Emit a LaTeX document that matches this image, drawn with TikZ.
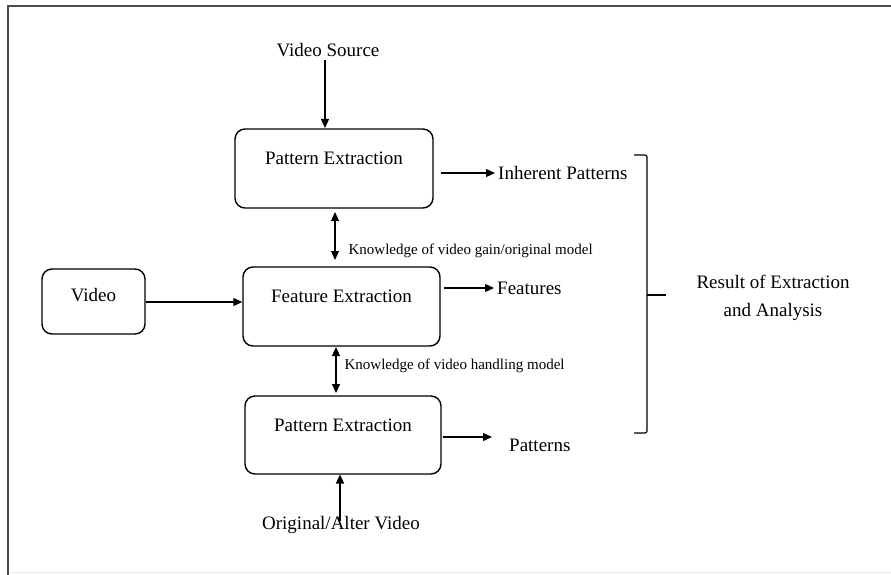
\documentclass[tikz,border=0pt]{standalone}
\usepackage{fontspec}
\setmainfont{Liberation Serif}
\usetikzlibrary{arrows.meta}
\tikzset{
  blk/.style={draw, line width=1.4pt, rounded corners=10pt, align=center,
    text height=14pt, text depth=22pt, font=\fontsize{19}{23}\selectfont},
  txt/.style={font=\fontsize{19}{23}\selectfont, inner sep=3pt},
  small/.style={font=\fontsize{15}{18}\selectfont, inner sep=2pt},
  arr/.style={line width=1.2pt, -{Triangle[length=9pt,width=8pt]}},
  darr/.style={line width=1.2pt, {Triangle[length=9pt,width=8pt]}-{Triangle[length=9pt,width=8pt]}}
}
\begin{document}
\begin{tikzpicture}[x=1pt,y=-1pt]
\useasboundingbox (0,0) rectangle (891,575);
% frame
\draw[line width=2.5pt, gray!60!black] (891,6)--(8,6)--(8,575);
\draw[line width=1pt, gray!15] (9.5,572)--(891,572);
% boxes
\node[blk, minimum width=198pt, minimum height=79pt] (pe1) at (334,168.5) {Pattern Extraction};
\node[blk, minimum width=197pt, minimum height=79pt] (fe) at (341.5,306.5) {Feature Extraction};
\node[blk, minimum width=196pt, minimum height=78pt] (pe2) at (343,435) {Pattern Extraction};
\node[blk, minimum width=103pt, minimum height=65pt, text depth=15pt] (vid) at (93.5,301.5) {Video};
% texts
\node[txt] (vsrc) at (328,50) {Video Source};
\node[txt, anchor=west] (ip) at (495,173) {Inherent Patterns};
\node[txt, anchor=west] (feat) at (494,288) {Features};
\node[txt, anchor=west] (pat) at (506,445) {Patterns};
\node[txt] (orig) at (341,525) {Original/Alter Video};
\node[txt, align=center, font=\fontsize{19}{28}\selectfont] (res) at (773,298) {Result of Extraction\\and Analysis};
% arrows
\draw[arr] (vsrc.south -| 325,0) -- (325,128);
\draw[arr] ([xshift=7pt]pe1.east |- ip.west) -- (ip.west);
\draw[arr] ([xshift=3pt]fe.east |- feat.west) -- (feat.west);
\draw[arr] ([xshift=1pt]pe2.east |- 0,437) -- (492,437);
\draw[arr] (vid.east |- 0,302) -- (fe.west |- 0,302);
\draw[arr] (orig.north -| 340,0) ++(0,8) -- (340,474.5);
\draw[darr] (335,212) -- node[small, anchor=west, pos=0.8, xshift=11pt] (k1) {Knowledge of video gain/original model} (335,260);
\draw[darr] (336,347) -- node[small, anchor=west, pos=0.41, xshift=6pt] (k2) {Knowledge of video handling model} (336,393);
% bracket
\draw[line width=1.2pt, rounded corners=2pt] (634,155) -- (647,155) -- (647,433) -- (634,433);
\draw[line width=1.2pt] (647,295) -- (666,295);
\end{tikzpicture}
\end{document}
